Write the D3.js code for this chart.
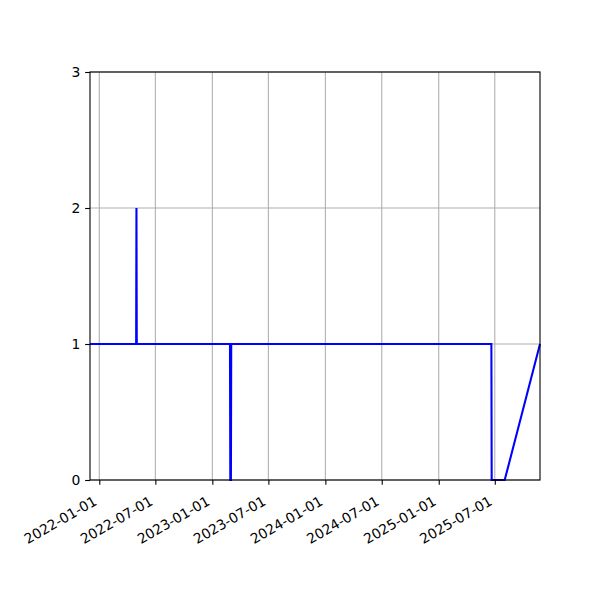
<!DOCTYPE html>
<html>
<head>
<meta charset="utf-8">
<script src="https://cdn.jsdelivr.net/npm/d3@7"></script>
<style>
    body { margin: 0; background: #fff; }
    svg { display: block; font-family: "DejaVu Sans", sans-serif; }
</style>
</head>
<body>
<div id="chart"></div>
<script>

// series
const dates = [
    "2021-12-02", "2022-04-30", "2022-05-01", "2022-05-02",
    "2023-02-27", "2023-02-28", "2023-03-02", "2023-03-03",
    "2025-06-20", "2025-06-21", "2025-08-02", "2025-11-24"
];
const values = [1, 1, 2, 1, 1, 0, 0, 1, 1, 0, 0, 1];

const xTicks = ["2022-01-01", "2022-07-01", "2023-01-01", "2023-07-01",
    "2024-01-01", "2024-07-01", "2025-01-01", "2025-07-01"];
const yTicks = [0, 1, 2, 3];

const parseTime = d3.timeParse("%Y-%m-%d");
const points = dates.map((d, i) => ({ date: parseTime(d), value: values[i] }));

const width = 600, height = 600;
const margin = { top: 72, right: 60, bottom: 120, left: 90 };
const innerW = width - margin.left - margin.right;
const innerH = height - margin.top - margin.bottom;

const svg = d3.select("#chart").append("svg")
    .attr("width", width)
    .attr("height", height);

const plot = svg.append("g")
    .attr("transform", `translate(${margin.left},${margin.top})`);

const xScale = d3.scaleTime()
    .domain(d3.extent(points, d => d.date))
    .range([0, innerW]);

const yScale = d3.scaleLinear()
    .domain([0, 3])
    .range([innerH, 0]);

const tickLen = 4.86;

// grid
plot.append("g").selectAll("line")
    .data(xTicks.map(parseTime))
    .enter().append("line")
    .attr("x1", d => xScale(d)).attr("x2", d => xScale(d))
    .attr("y1", 0).attr("y2", innerH)
    .attr("stroke", "#b0b0b0").attr("stroke-width", 1.1);

plot.append("g").selectAll("line")
    .data(yTicks)
    .enter().append("line")
    .attr("x1", 0).attr("x2", innerW)
    .attr("y1", d => yScale(d)).attr("y2", d => yScale(d))
    .attr("stroke", "#b0b0b0").attr("stroke-width", 1.1);

// the line
const line = d3.line()
    .x(d => xScale(d.date))
    .y(d => yScale(d.value));

plot.append("path")
    .datum(points)
    .attr("d", line)
    .attr("fill", "none")
    .attr("stroke", "#0000ff")
    .attr("stroke-width", 2.08)
    .attr("stroke-linejoin", "miter");

// axes
const xAxis = d3.axisBottom(xScale)
    .tickValues(xTicks.map(parseTime))
    .tickFormat(d3.timeFormat("%Y-%m-%d"))
    .tickSizeInner(tickLen)
    .tickSizeOuter(0);

const gx = plot.append("g")
    .attr("transform", `translate(0,${innerH})`)
    .call(xAxis);

// rotated labels, baseline end sits just left of and below the tick
gx.selectAll("text")
    .attr("font-size", 13.9)
    .attr("fill", "#000")
    .attr("text-anchor", "end")
    .attr("dy", 0)
    .attr("y", 0)
    .attr("transform", "translate(-2,24) rotate(-30)");

const yAxis = d3.axisLeft(yScale)
    .tickValues(yTicks)
    .tickFormat(d3.format("d"))
    .tickSizeInner(tickLen)
    .tickSizeOuter(0)
    .tickPadding(4.86);

const gy = plot.append("g").call(yAxis);
gy.selectAll("text").attr("font-size", 13.9).attr("fill", "#000");

[gx, gy].forEach(g => {
    g.select(".domain").remove();
    g.selectAll(".tick line").attr("stroke", "#000").attr("stroke-width", 1.1);
    g.attr("font-family", "DejaVu Sans, sans-serif");
});

// frame
plot.append("rect")
    .attr("width", innerW)
    .attr("height", innerH)
    .attr("fill", "none")
    .attr("stroke", "#000")
    .attr("stroke-width", 1.1);

</script>
</body>
</html>
